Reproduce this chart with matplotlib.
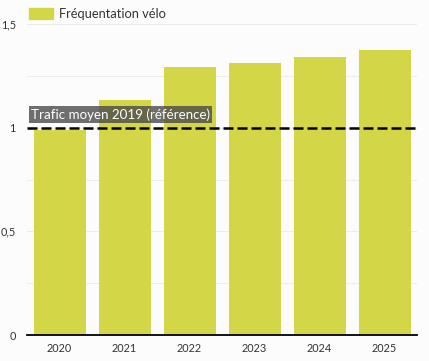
import matplotlib
matplotlib.use("Agg")
import matplotlib.pyplot as plt
import matplotlib.patches as mpatches
from matplotlib.ticker import FixedLocator, MultipleLocator

years = ["2020", "2021", "2022", "2023", "2024", "2025"]
values = [0.99, 1.134, 1.294, 1.312, 1.343, 1.375]
reference = 1.0
ytick_vals = [0, 0.5, 1, 1.5]
ytick_labels = ["0", "0,5", "1", "1,5"]
series_name = "Fréquentation vélo"
ref_label = "Trafic moyen 2019 (référence)"

plt.rcParams['font.family'] = ['Lato', 'DejaVu Sans']
bg = "#fcfcfc"
bar_color = "#d3d646"

fig = plt.figure(figsize=(4.29, 3.61), dpi=100, facecolor=bg)
ax = fig.add_axes([27/429, 26/361, 390/429, 311/361], facecolor=bg)

x = list(range(len(years)))
ax.bar(x, values, width=0.8, color=bar_color, zorder=2)
ax.set_xlim(-0.5, len(years) - 0.5)
ax.set_ylim(0, 1.5)

ax.yaxis.set_major_locator(FixedLocator(ytick_vals))
ax.set_yticklabels(ytick_labels)
ax.yaxis.set_minor_locator(MultipleLocator(0.25))
ax.grid(axis='y', which='both', color='#ececec', linewidth=0.8, zorder=0)
ax.set_xticks(x)
ax.set_xticklabels(years)
ax.tick_params(axis='both', which='both', length=0, labelsize=7.8, colors='#333333')
ax.tick_params(axis='x', pad=6)
ax.tick_params(axis='y', pad=8)

for s in ['top', 'right', 'left']:
    ax.spines[s].set_visible(False)
ax.spines['bottom'].set_color('black')
ax.spines['bottom'].set_linewidth(1.3)
ax.spines['bottom'].set_zorder(4)

ax.axhline(reference, color='black', linewidth=1.8, linestyle=(0, (4, 1.6)), zorder=3)
ax.annotate(ref_label, xy=(0, reference), xycoords=('axes fraction', 'data'),
            xytext=(3, 5), textcoords='offset points', ha='left', va='bottom',
            fontsize=9.6, color='white', zorder=5,
            bbox=dict(boxstyle='square,pad=0.15', facecolor='#4a4a4a', alpha=0.8, edgecolor='none'))

handle = mpatches.Patch(color=bar_color, label=series_name)
leg = fig.legend(handles=[handle], loc='upper left', bbox_to_anchor=(21/429, 1.0),
                 frameon=False, fontsize=9.3, handlelength=1.9, handleheight=1.0,
                 handletextpad=0.45, borderaxespad=0.2, labelcolor='#333333')

fig.savefig("out.png", dpi=100, facecolor=bg)
